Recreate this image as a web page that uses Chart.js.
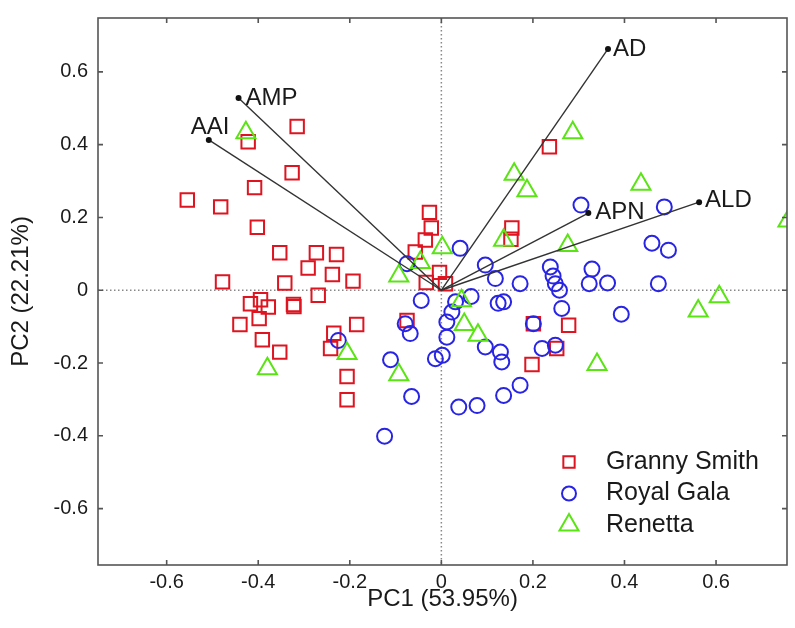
<!DOCTYPE html>
<html>
<head>
<meta charset="utf-8">
<script src="https://cdn.jsdelivr.net/npm/chart.js@4.4.1/dist/chart.umd.min.js"></script>
<style>
  html, body { margin: 0; padding: 0; background: #fff; }
  #wrap { width: 795px; height: 628px; }
</style>
</head>
<body>
<div id="wrap"><canvas id="pca" width="795" height="628"></canvas></div>
<script>
// axis ticks
const xTicks = [-0.6, -0.4, -0.2, 0, 0.2, 0.4, 0.6];
const yTicks = [-0.6, -0.4, -0.2, 0, 0.2, 0.4, 0.6];

// PCA scores
const grannyX = [-0.315, -0.422, -0.326, -0.408, -0.555, -0.482, -0.402, -0.026, -0.022, -0.035,
  -0.057, -0.353, -0.273, -0.229, -0.291, -0.238, -0.478, -0.342, -0.193, -0.004,
  -0.033, 0.009, 0.236, 0.154, 0.152, -0.417, -0.395, -0.378, -0.323, -0.322,
  -0.269, -0.440, -0.398, -0.391, -0.353, -0.235, -0.185, -0.242, -0.206, -0.206,
  -0.075, 0.201, 0.278, 0.252, 0.198];
const grannyY = [0.450, 0.408, 0.323, 0.282, 0.248, 0.229, 0.173, 0.214, 0.171, 0.138,
  0.105, 0.103, 0.103, 0.098, 0.061, 0.043, 0.023, 0.020, 0.025, 0.049,
  0.021, 0.018, 0.394, 0.171, 0.140, -0.037, -0.026, -0.046, -0.039, -0.045,
  -0.014, -0.094, -0.078, -0.136, -0.170, -0.118, -0.094, -0.160, -0.237, -0.301,
  -0.083, -0.092, -0.096, -0.160, -0.204];

const galaX = [-0.225, -0.111, -0.065, -0.124, -0.044, -0.079, -0.068, -0.013, 0.002, -0.075,
  0.041, 0.096, 0.118, 0.172, 0.065, 0.031, 0.023, 0.012, 0.012, 0.305,
  0.487, 0.460, 0.496, 0.238, 0.244, 0.249, 0.258, 0.329, 0.323, 0.363,
  0.474, 0.263, 0.393, 0.136, 0.124, 0.096, 0.129, 0.132, 0.201, 0.220,
  0.249, 0.172, 0.136, 0.038, 0.078];
const galaY = [-0.138, -0.191, -0.292, -0.401, -0.028, -0.092, -0.119, -0.188, -0.179, 0.073,
  0.115, 0.069, 0.032, 0.018, -0.017, -0.032, -0.060, -0.087, -0.129, 0.234,
  0.229, 0.129, 0.110, 0.064, 0.039, 0.018, 0.000, 0.058, 0.018, 0.020,
  0.018, -0.050, -0.066, -0.032, -0.036, -0.156, -0.170, -0.197, -0.092, -0.160,
  -0.151, -0.261, -0.289, -0.321, -0.317];

const renettaX = [-0.427, 0.287, 0.159, 0.187, 0.436, 0.757, 0.276, 0.136, 0.002, -0.046,
  -0.093, 0.044, 0.050, 0.080, 0.607, 0.561, 0.340, -0.380, -0.206, -0.093];
const renettaY = [0.433, 0.433, 0.319, 0.273, 0.291, 0.190, 0.123, 0.137, 0.117, 0.076,
  0.039, -0.029, -0.094, -0.124, -0.018, -0.057, -0.204, -0.216, -0.174, -0.232];

// loadings (biplot vectors)
const loadNames = ["AD", "ALD", "APN", "AMP", "AAI"];
const loadX = [0.364, 0.563, 0.321, -0.443, -0.508];
const loadY = [0.663, 0.242, 0.212, 0.528, 0.413];

const FONT = "'Liberation Sans', Arial, Helvetica, sans-serif";
const TEXT = "#1a1a1a";

const toPts = (xs, ys) => xs.map((x, i) => ({ x: x, y: ys[i] }));

const groups = [
    { label: "Granny Smith", xs: grannyX, ys: grannyY, color: "rgb(222,20,32)", style: "rect", r: 9.5, legendR: 8, order: 3 },
    { label: "Royal Gala", xs: galaX, ys: galaY, color: "rgb(40,36,228)", style: "circle", r: 7.5, legendR: 7, order: 2 },
    { label: "Renetta", xs: renettaX, ys: renettaY, color: "rgb(90,228,20)", style: "triangle", r: 11, legendR: 11, order: 1 }
];

const scoreSets = groups.map(g => ({
    label: g.label,
    data: toPts(g.xs, g.ys),
    pointStyle: g.style,
    pointRadius: g.r,
    pointBorderWidth: 2,
    borderColor: g.color,
    backgroundColor: "rgba(0,0,0,0)",
    clip: 0,
    order: g.order
}));

const loadSets = loadNames.map((n, i) => ({
    label: n,
    data: [{ x: 0, y: 0 }, { x: loadX[i], y: loadY[i] }],
    showLine: true,
    borderColor: "#333",
    borderWidth: 1.4,
    pointRadius: ctx => ctx.dataIndex === 1 ? 3 : 0,
    pointBackgroundColor: "#111",
    pointBorderWidth: 0,
    order: 0
}));

// label offsets next to each loading tip
const labelOffsets = {
    AD: [5, 0], ALD: [6, -2], APN: [7, -1], AMP: [7, 0], AAI: [-18, -13]
};

const framePlugin = {
    id: "frame",
    beforeDatasetsDraw(chart) {
        const { ctx, chartArea: a, scales: { x, y } } = chart;
        ctx.save();
        ctx.strokeStyle = "#888";
        ctx.lineWidth = 1.5;
        ctx.setLineDash([1.5, 2.5]);
        const x0 = x.getPixelForValue(0), y0 = y.getPixelForValue(0);
        ctx.beginPath();
        ctx.moveTo(a.left, y0); ctx.lineTo(a.right, y0);
        ctx.moveTo(x0, a.top); ctx.lineTo(x0, a.bottom);
        ctx.stroke();
        ctx.restore();
    },
    afterDatasetsDraw(chart) {
        const { ctx, chartArea: a, scales: { x, y } } = chart;
        ctx.save();
        ctx.strokeStyle = "#555";
        ctx.lineWidth = 1.6;
        ctx.strokeRect(a.left, a.top, a.right - a.left, a.bottom - a.top);
        ctx.beginPath();
        xTicks.forEach(v => {
            const px = x.getPixelForValue(v);
            ctx.moveTo(px, a.bottom); ctx.lineTo(px, a.bottom - 5);
            ctx.moveTo(px, a.top); ctx.lineTo(px, a.top + 5);
        });
        yTicks.forEach(v => {
            const py = y.getPixelForValue(v);
            ctx.moveTo(a.left, py); ctx.lineTo(a.left + 5, py);
            ctx.moveTo(a.right, py); ctx.lineTo(a.right - 5, py);
        });
        ctx.stroke();

        // loading names
        ctx.fillStyle = TEXT;
        ctx.font = "24px " + FONT;
        ctx.textBaseline = "middle";
        ctx.textAlign = "left";
        loadNames.forEach((n, i) => {
            const off = labelOffsets[n];
            ctx.fillText(n, x.getPixelForValue(loadX[i]) + off[0], y.getPixelForValue(loadY[i]) + off[1]);
        });
        ctx.restore();
    },
    afterDraw(chart) {
        // legend inside the plot, lower right
        const { ctx } = chart;
        const { drawPoint } = Chart.helpers;
        ctx.save();
        groups.forEach((g, i) => {
            const my = 462 + i * 31.5;
            ctx.strokeStyle = g.color;
            ctx.fillStyle = "rgba(0,0,0,0)";
            ctx.lineWidth = 2;
            drawPoint(ctx, { pointStyle: g.style, radius: g.legendR, rotation: 0, borderWidth: 2 }, 569, my);
            ctx.fillStyle = TEXT;
            ctx.font = "25px " + FONT;
            ctx.textBaseline = "middle";
            ctx.textAlign = "left";
            ctx.fillText(g.label, 606, my);
        });
        ctx.restore();
    }
};

new Chart(document.getElementById("pca"), {
    type: "scatter",
    data: { datasets: [...scoreSets, ...loadSets] },
    options: {
        responsive: false,
        animation: false,
        layout: { autoPadding: false, padding: { top: 18, right: 8, left: 0, bottom: 0 } },
        plugins: {
            legend: { display: false },
            tooltip: { enabled: false }
        },
        scales: {
            x: {
                type: "linear",
                min: -0.75,
                max: 0.755,
                afterBuildTicks: s => { s.ticks = xTicks.map(v => ({ value: v })); },
                afterFit: s => { s.height = 63; s.paddingLeft = 0; s.paddingRight = 0; },
                grid: { display: false, drawTicks: false },
                border: { display: false },
                ticks: {
                    padding: 5,
                    maxRotation: 0,
                    autoSkip: false,
                    color: TEXT,
                    font: { family: FONT, size: 20 },
                    callback: v => v === 0 ? "0" : v.toFixed(1)
                },
                title: {
                    display: true,
                    text: "PC1 (53.95%)",
                    color: TEXT,
                    font: { family: FONT, size: 24 },
                    padding: { top: 0, bottom: 14 }
                }
            },
            y: {
                type: "linear",
                min: -0.755,
                max: 0.748,
                afterBuildTicks: s => { s.ticks = yTicks.map(v => ({ value: v })); },
                afterFit: s => { s.width = 98; s.paddingTop = 0; s.paddingBottom = 0; },
                grid: { display: false, drawTicks: false },
                border: { display: false },
                ticks: {
                    padding: 10,
                    autoSkip: false,
                    color: TEXT,
                    font: { family: FONT, size: 20 },
                    callback: v => v === 0 ? "0" : v.toFixed(1)
                },
                title: {
                    display: true,
                    text: "PC2 (22.21%)",
                    color: TEXT,
                    font: { family: FONT, size: 24 },
                    padding: { top: 7, bottom: 0 }
                }
            }
        }
    },
    plugins: [framePlugin]
});
</script>
</body>
</html>
